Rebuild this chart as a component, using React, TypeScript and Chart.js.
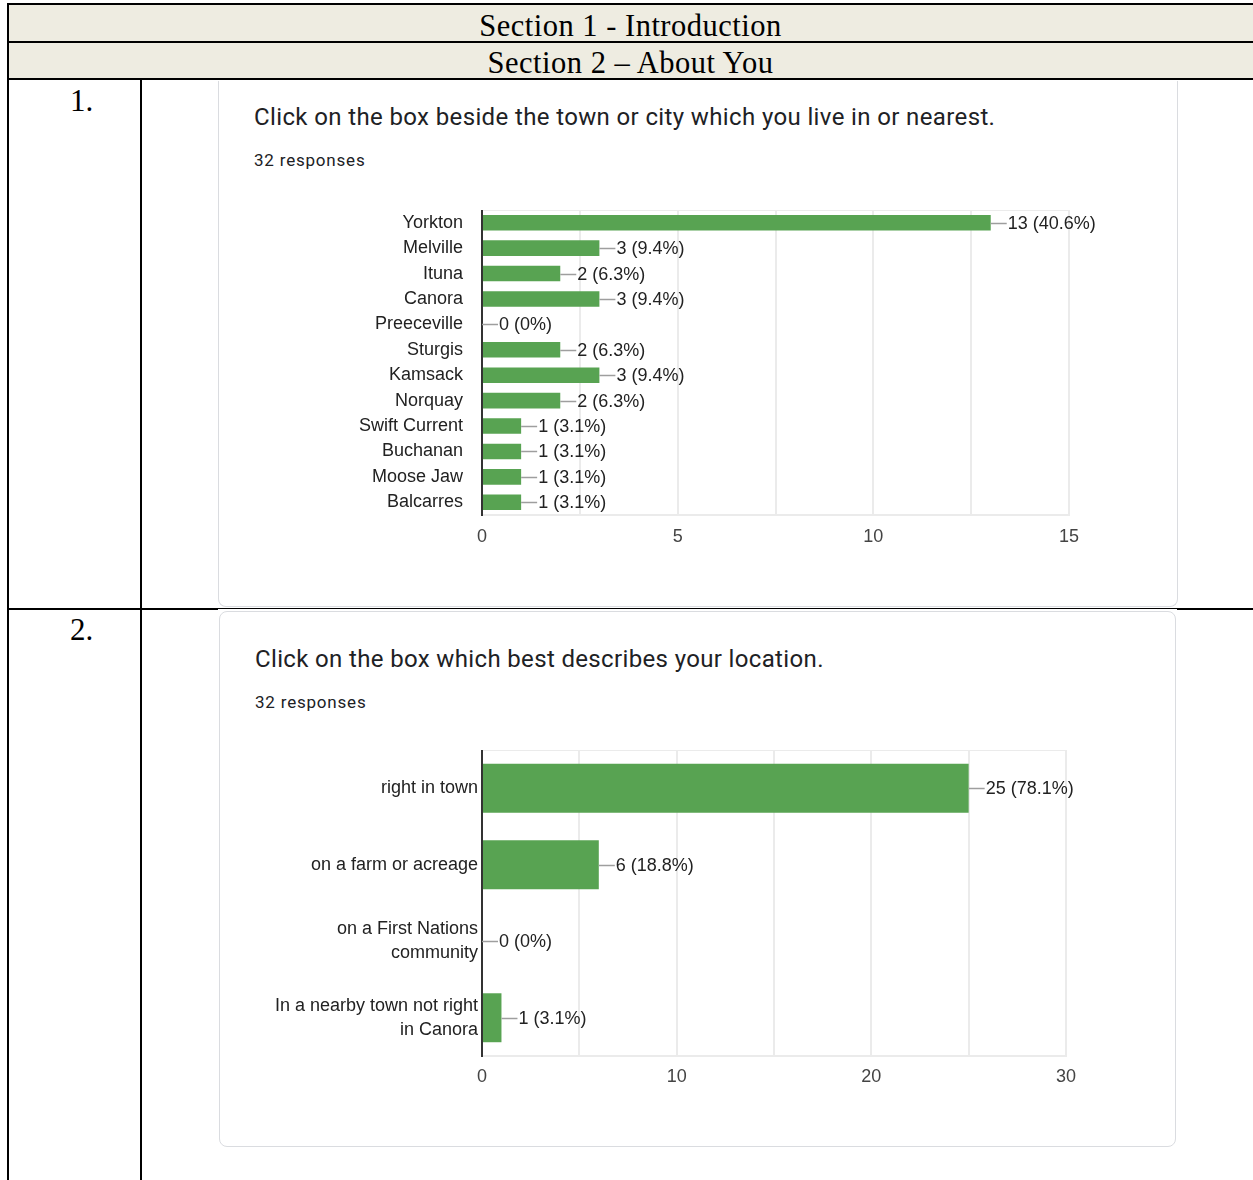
import React, { useEffect, useRef } from "react";
import { Chart, registerables } from "chart.js";

Chart.register(...registerables);

// ---- Data ----
const townLabels = [
  "Yorkton",
  "Melville",
  "Ituna",
  "Canora",
  "Preeceville",
  "Sturgis",
  "Kamsack",
  "Norquay",
  "Swift Current",
  "Buchanan",
  "Moose Jaw",
  "Balcarres",
];
const townCounts = [13, 3, 2, 3, 0, 2, 3, 2, 1, 1, 1, 1];
const townPercents = ["40.6%", "9.4%", "6.3%", "9.4%", "0%", "6.3%", "9.4%", "6.3%", "3.1%", "3.1%", "3.1%", "3.1%"];
const townAxisTicks = [0, 5, 10, 15];

const locationLabels = [
  ["right in town"],
  ["on a farm or acreage"],
  ["on a First Nations", "community"],
  ["In a nearby town not right", "in Canora"],
];
const locationCounts = [25, 6, 0, 1];
const locationPercents = ["78.1%", "18.8%", "0%", "3.1%"];
const locationAxisTicks = [0, 10, 20, 30];

const BAR_COLOR = "#58a352";
const GRID_COLOR = "#ebebeb";
const CHART_FONT = "'Liberation Sans', Arial, sans-serif";

const valueLabelPlugin = {
  id: "valueLabels",
  beforeDatasetsDraw(chart: any) {
    const { ctx, chartArea } = chart;
    ctx.save();
    ctx.strokeStyle = GRID_COLOR;
    ctx.lineWidth = 1;
    ctx.beginPath();
    ctx.moveTo(chartArea.left, chartArea.top + 0.5);
    ctx.lineTo(chartArea.right, chartArea.top + 0.5);
    ctx.stroke();
    ctx.restore();
  },
  afterDatasetsDraw(chart: any, _args: any, opts: any) {
    const { ctx, chartArea } = chart;
    const meta = chart.getDatasetMeta(0);
    const data = chart.data.datasets[0].data;
    ctx.save();
    ctx.strokeStyle = "#333333";
    ctx.lineWidth = 2;
    ctx.beginPath();
    ctx.moveTo(chartArea.left, chartArea.top);
    ctx.lineTo(chartArea.left, chartArea.bottom + 1);
    ctx.stroke();
    ctx.font = `${opts.fontSize}px ${CHART_FONT}`;
    ctx.textBaseline = "middle";
    ctx.textAlign = "left";
    meta.data.forEach((el: any, i: number) => {
      const x = el.x;
      const y = Math.round(el.y) + 0.5;
      ctx.strokeStyle = "#9e9e9e";
      ctx.lineWidth = 1.5;
      ctx.beginPath();
      ctx.moveTo(x, y);
      ctx.lineTo(x + 16, y);
      ctx.stroke();
      ctx.fillStyle = "#222222";
      ctx.fillText(`${data[i]} (${opts.percents[i]})`, x + 17, y + 1);
    });
    ctx.restore();
  },
};

type BarProps = {
  labels: any[];
  counts: number[];
  percents: string[];
  axisTicks: number[];
  max: number;
  step: number;
  width: number;
  height: number;
  yWidth: number;
  xHeight: number;
  padRight: number;
  padTop: number;
  yPad: number;
  xPad: number;
  barPct: number;
};

function BarChart(p: BarProps) {
  const ref = useRef<HTMLCanvasElement | null>(null);
  useEffect(() => {
    if (!ref.current) return;
    const fontSize = 18;
    const chart = new Chart(ref.current, {
      type: "bar",
      data: {
        labels: p.labels,
        datasets: [
          {
            data: p.counts,
            backgroundColor: BAR_COLOR,
            borderWidth: 0,
            barPercentage: p.barPct,
            categoryPercentage: 1,
          },
        ],
      },
      options: {
        indexAxis: "y",
        responsive: false,
        animation: false,
        layout: { padding: { top: p.padTop, right: p.padRight, left: 0, bottom: 0 } },
        plugins: {
          legend: { display: false },
          tooltip: { enabled: false },
          valueLabels: { percents: p.percents, fontSize },
        } as any,
        scales: {
          x: {
            type: "linear",
            min: 0,
            max: p.max,
            afterFit: (s: any) => {
              s.height = p.xHeight;
              s.paddingLeft = 0;
              s.paddingRight = 0;
            },
            ticks: {
              stepSize: p.step,
              autoSkip: false,
              maxRotation: 0,
              padding: p.xPad,
              color: "#444444",
              font: { family: CHART_FONT, size: fontSize },
              callback: (v: any) => (p.axisTicks.includes(Number(v)) ? String(v) : ""),
            },
            grid: {
              drawTicks: false,
              color: (c: any) => (c.tick && c.tick.value === 0 ? "rgba(0,0,0,0)" : GRID_COLOR),
              lineWidth: 2,
            },
            border: { display: true, color: GRID_COLOR, width: 2 },
          },
          y: {
            afterFit: (s: any) => {
              s.width = p.yWidth;
              s.paddingTop = 0;
              s.paddingBottom = 0;
            },
            ticks: {
              padding: p.yPad,
              color: "#222222",
              autoSkip: false,
              font: { family: CHART_FONT, size: fontSize, lineHeight: 1.35 },
            },
            grid: { display: false, drawTicks: false },
            border: { display: false },
          },
        },
      },
      plugins: [valueLabelPlugin as any],
    });
    return () => chart.destroy();
  }, []);
  return <canvas ref={ref} width={p.width} height={p.height} style={{ display: "block" }} />;
}

const abs = (l: number, t: number, w: number, h: number, extra: any = {}) => ({
  position: "absolute" as const,
  left: l,
  top: t,
  width: w,
  height: h,
  ...extra,
});

export default function App() {
  const serif = "'Liberation Serif', 'Times New Roman', serif";
  const titleFont = "Roboto, 'Noto Sans', sans-serif";
  const headStyle = {
    fontFamily: serif,
    fontSize: 30.5,
    letterSpacing: 0.5,
    textAlign: "center" as const,
    color: "#000",
    whiteSpace: "nowrap" as const,
  };
  return (
    <div style={{ position: "absolute", left: 0, top: 0, width: 1253, height: 1180, overflow: "hidden", background: "#fff" }}>
      {/* Section rows */}
      <div style={abs(9, 5, 1244, 37, { background: "#eeece1" })} />
      <div style={abs(9, 43, 1244, 36, { background: "#eeece1" })} />
      <div style={abs(8, 6, 1245, 41, { ...headStyle, lineHeight: "41px" })}>Section 1 - Introduction</div>
      <div style={abs(8, 45, 1245, 37, { ...headStyle, lineHeight: "37px" })}>Section 2 – About You</div>

      {/* Card 1 (top edge cut off by the table row) */}
      <div
        style={abs(218, 81, 960, 526, {
          borderLeft: "1px solid #dadce0",
          borderRight: "1px solid #dadce0",
          borderBottom: "1px solid #dadce0",
          borderRadius: "0 0 8px 8px",
          background: "#fff",
          boxSizing: "border-box",
        })}
      />
      <div style={abs(254, 102, 900, 30, { fontFamily: titleFont, fontSize: 24, letterSpacing: 0.37, color: "#202124", lineHeight: "30px", whiteSpace: "nowrap" })}>
        Click on the box beside the town or city which you live in or nearest.
      </div>
      <div style={abs(254, 149, 300, 22, { fontFamily: titleFont, fontSize: 17, letterSpacing: 0.8, color: "#202124", lineHeight: "22px" })}>
        32 responses
      </div>
      <div style={abs(300, 200, 880, 360)}>
        <BarChart
          labels={townLabels}
          counts={townCounts}
          percents={townPercents}
          axisTicks={townAxisTicks}
          max={15}
          step={2.5}
          width={880}
          height={360}
          yWidth={182}
          xHeight={45}
          padRight={111}
          padTop={10}
          yPad={19}
          xPad={11}
          barPct={0.61}
        />
      </div>

      {/* Card 2 */}
      <div
        style={abs(219, 611, 957, 536, {
          border: "1px solid #dadce0",
          borderRadius: 8,
          background: "#fff",
          boxSizing: "border-box",
        })}
      />
      <div style={abs(255, 644, 900, 30, { fontFamily: titleFont, fontSize: 24, letterSpacing: 0.35, color: "#202124", lineHeight: "30px", whiteSpace: "nowrap" })}>
        Click on the box which best describes your location.
      </div>
      <div style={abs(255, 691, 300, 22, { fontFamily: titleFont, fontSize: 17, letterSpacing: 0.8, color: "#202124", lineHeight: "22px" })}>
        32 responses
      </div>
      <div style={abs(250, 740, 930, 370)}>
        <BarChart
          labels={locationLabels}
          counts={locationCounts}
          percents={locationPercents}
          axisTicks={locationAxisTicks}
          max={30}
          step={5}
          width={930}
          height={370}
          yWidth={232}
          xHeight={54}
          padRight={114}
          padTop={10}
          yPad={4}
          xPad={10}
          barPct={0.64}
        />
      </div>

      {/* Table lines */}
      <div style={abs(7, 3, 1246, 2, { background: "#000" })} />
      <div style={abs(7, 41, 1246, 2, { background: "#000" })} />
      <div style={abs(7, 78, 1246, 2, { background: "#000" })} />
      <div style={abs(7, 608, 211, 2, { background: "#000" })} />
      <div style={abs(218, 608, 960, 1, { background: "#000" })} />
      <div style={abs(1177, 608, 76, 2, { background: "#000" })} />
      <div style={abs(7, 3, 2, 1177, { background: "#000" })} />
      <div style={abs(140, 80, 2, 1100, { background: "#000" })} />

      {/* Row numbers */}
      <div style={abs(70, 84, 60, 33, { fontFamily: serif, fontSize: 31, lineHeight: "33px", color: "#000" })}>1.</div>
      <div style={abs(70, 613, 60, 33, { fontFamily: serif, fontSize: 31, lineHeight: "33px", color: "#000" })}>2.</div>
    </div>
  );
}
